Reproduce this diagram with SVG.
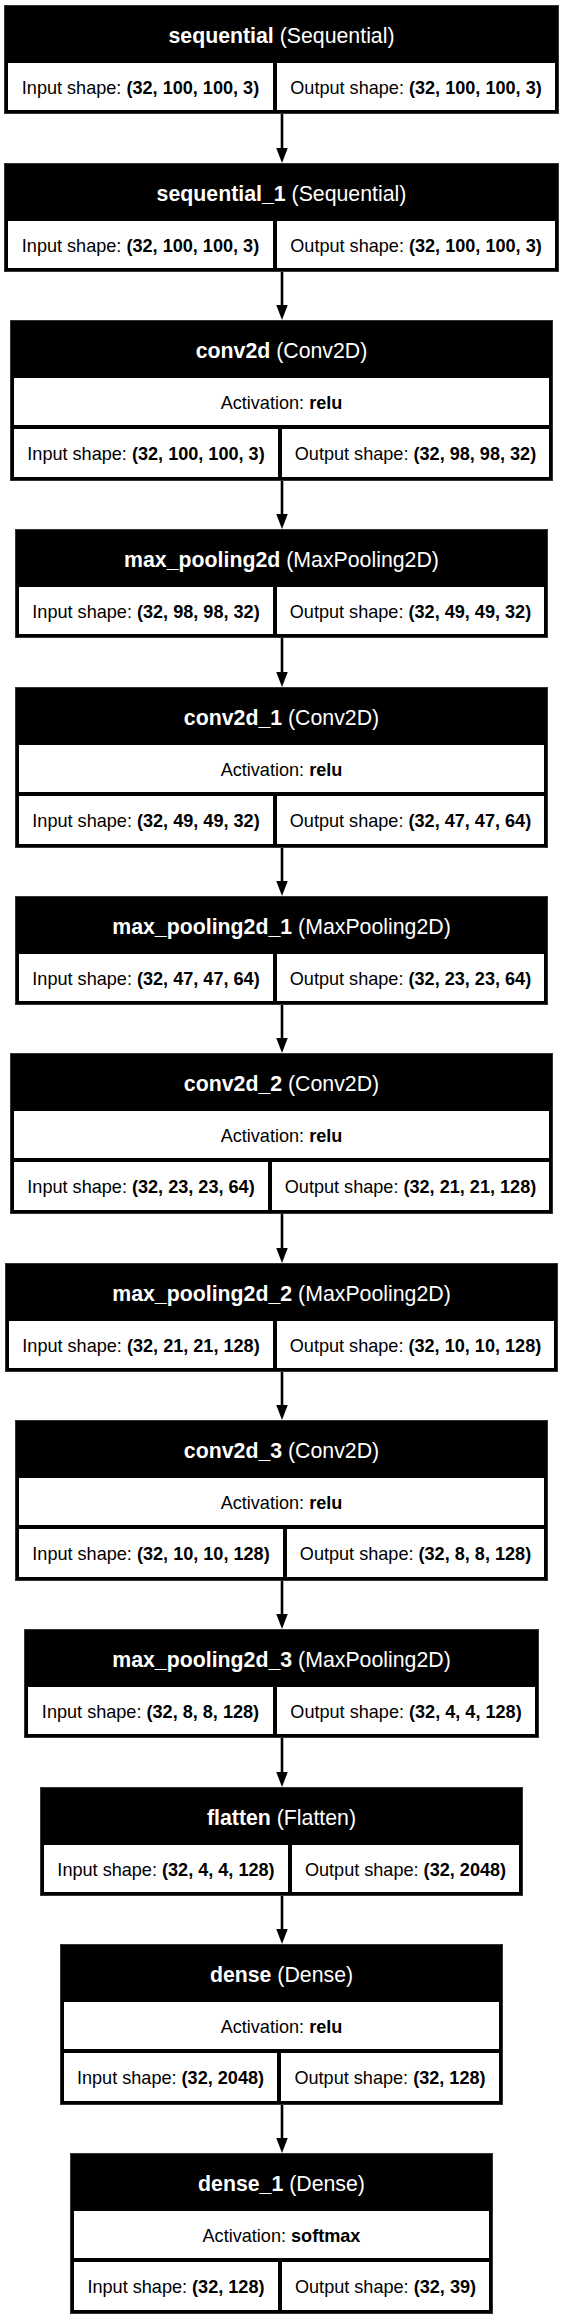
<svg xmlns="http://www.w3.org/2000/svg" width="564" height="2320" viewBox="0 0 564 2320">
<style>
.box{fill:#000;stroke:#333;stroke-width:1}
.cell{fill:#fff}
text{font-family:"Liberation Sans",Arial,Helvetica,sans-serif;text-anchor:middle}
.hd{fill:#fff;font-size:21.3px}
.tx{fill:#000;font-size:18.1px}
.b{font-weight:bold}
.edge{stroke:#000;stroke-width:2.6;fill:none}
</style>
<defs>
<marker id="ah" markerUnits="userSpaceOnUse" markerWidth="16" markerHeight="12" refX="0" refY="5.75" orient="auto">
<path d="M0,0 L15,5.75 L0,11.5 z" fill="#000"/>
</marker>
</defs>
<rect width="564" height="2320" fill="#fff"/>

<g id="connectors">
<path class="edge" marker-end="url(#ah)" d="M282,114 V148"/>
<path class="edge" marker-end="url(#ah)" d="M282,272 V305"/>
<path class="edge" marker-end="url(#ah)" d="M282,481 V514"/>
<path class="edge" marker-end="url(#ah)" d="M282,638 V672"/>
<path class="edge" marker-end="url(#ah)" d="M282,848 V881"/>
<path class="edge" marker-end="url(#ah)" d="M282,1005 V1038"/>
<path class="edge" marker-end="url(#ah)" d="M282,1214 V1248"/>
<path class="edge" marker-end="url(#ah)" d="M282,1372 V1405"/>
<path class="edge" marker-end="url(#ah)" d="M282,1581 V1614"/>
<path class="edge" marker-end="url(#ah)" d="M282,1738 V1772"/>
<path class="edge" marker-end="url(#ah)" d="M282,1896 V1929"/>
<path class="edge" marker-end="url(#ah)" d="M282,2105 V2138"/>
</g>

<g id="sequential">
<rect class="box" x="4.5" y="5.5" width="554" height="108"/>
<rect class="cell" x="8" y="63" width="265" height="47"/>
<rect class="cell" x="277" y="63" width="278" height="47"/>
<text class="hd" x="281.5" y="43"><tspan class="b">sequential</tspan> (Sequential)</text>
<text class="tx" x="140.5" y="93.5">Input shape: <tspan class="b">(32, 100, 100, 3)</tspan></text>
<text class="tx" x="416" y="93.5">Output shape: <tspan class="b">(32, 100, 100, 3)</tspan></text>
</g>

<g id="sequential_1">
<rect class="box" x="4.5" y="163.5" width="554" height="108"/>
<rect class="cell" x="8" y="221" width="265" height="47"/>
<rect class="cell" x="277" y="221" width="278" height="47"/>
<text class="hd" x="281.5" y="201"><tspan class="b">sequential_1</tspan> (Sequential)</text>
<text class="tx" x="140.5" y="251.5">Input shape: <tspan class="b">(32, 100, 100, 3)</tspan></text>
<text class="tx" x="416" y="251.5">Output shape: <tspan class="b">(32, 100, 100, 3)</tspan></text>
</g>

<g id="conv2d">
<rect class="box" x="10.5" y="320.5" width="542" height="160"/>
<rect class="cell" x="14" y="378" width="535" height="47"/>
<rect class="cell" x="14" y="429" width="264" height="48"/>
<rect class="cell" x="282" y="429" width="267" height="48"/>
<text class="hd" x="281.5" y="358"><tspan class="b">conv2d</tspan> (Conv2D)</text>
<text class="tx" x="281.5" y="408.5">Activation: <tspan class="b">relu</tspan></text>
<text class="tx" x="146" y="459.5">Input shape: <tspan class="b">(32, 100, 100, 3)</tspan></text>
<text class="tx" x="415.5" y="459.5">Output shape: <tspan class="b">(32, 98, 98, 32)</tspan></text>
</g>

<g id="max_pooling2d">
<rect class="box" x="15.5" y="529.5" width="532" height="108"/>
<rect class="cell" x="19" y="587" width="254" height="47"/>
<rect class="cell" x="277" y="587" width="267" height="47"/>
<text class="hd" x="281.5" y="567"><tspan class="b">max_pooling2d</tspan> (MaxPooling2D)</text>
<text class="tx" x="146" y="617.5">Input shape: <tspan class="b">(32, 98, 98, 32)</tspan></text>
<text class="tx" x="410.5" y="617.5">Output shape: <tspan class="b">(32, 49, 49, 32)</tspan></text>
</g>

<g id="conv2d_1">
<rect class="box" x="15.5" y="687.5" width="532" height="160"/>
<rect class="cell" x="19" y="745" width="525" height="47"/>
<rect class="cell" x="19" y="796" width="254" height="48"/>
<rect class="cell" x="277" y="796" width="267" height="48"/>
<text class="hd" x="281.5" y="725"><tspan class="b">conv2d_1</tspan> (Conv2D)</text>
<text class="tx" x="281.5" y="775.5">Activation: <tspan class="b">relu</tspan></text>
<text class="tx" x="146" y="826.5">Input shape: <tspan class="b">(32, 49, 49, 32)</tspan></text>
<text class="tx" x="410.5" y="826.5">Output shape: <tspan class="b">(32, 47, 47, 64)</tspan></text>
</g>

<g id="max_pooling2d_1">
<rect class="box" x="15.5" y="896.5" width="532" height="108"/>
<rect class="cell" x="19" y="954" width="254" height="47"/>
<rect class="cell" x="277" y="954" width="267" height="47"/>
<text class="hd" x="281.5" y="934"><tspan class="b">max_pooling2d_1</tspan> (MaxPooling2D)</text>
<text class="tx" x="146" y="984.5">Input shape: <tspan class="b">(32, 47, 47, 64)</tspan></text>
<text class="tx" x="410.5" y="984.5">Output shape: <tspan class="b">(32, 23, 23, 64)</tspan></text>
</g>

<g id="conv2d_2">
<rect class="box" x="10.5" y="1053.5" width="542" height="160"/>
<rect class="cell" x="14" y="1111" width="535" height="47"/>
<rect class="cell" x="14" y="1162" width="254" height="48"/>
<rect class="cell" x="272" y="1162" width="277" height="48"/>
<text class="hd" x="281.5" y="1091"><tspan class="b">conv2d_2</tspan> (Conv2D)</text>
<text class="tx" x="281.5" y="1141.5">Activation: <tspan class="b">relu</tspan></text>
<text class="tx" x="141" y="1192.5">Input shape: <tspan class="b">(32, 23, 23, 64)</tspan></text>
<text class="tx" x="410.5" y="1192.5">Output shape: <tspan class="b">(32, 21, 21, 128)</tspan></text>
</g>

<g id="max_pooling2d_2">
<rect class="box" x="5.5" y="1263.5" width="552" height="108"/>
<rect class="cell" x="9" y="1321" width="264" height="47"/>
<rect class="cell" x="277" y="1321" width="277" height="47"/>
<text class="hd" x="281.5" y="1301"><tspan class="b">max_pooling2d_2</tspan> (MaxPooling2D)</text>
<text class="tx" x="141" y="1351.5">Input shape: <tspan class="b">(32, 21, 21, 128)</tspan></text>
<text class="tx" x="415.5" y="1351.5">Output shape: <tspan class="b">(32, 10, 10, 128)</tspan></text>
</g>

<g id="conv2d_3">
<rect class="box" x="15.5" y="1420.5" width="532" height="160"/>
<rect class="cell" x="19" y="1478" width="525" height="47"/>
<rect class="cell" x="19" y="1529" width="264" height="48"/>
<rect class="cell" x="287" y="1529" width="257" height="48"/>
<text class="hd" x="281.5" y="1458"><tspan class="b">conv2d_3</tspan> (Conv2D)</text>
<text class="tx" x="281.5" y="1508.5">Activation: <tspan class="b">relu</tspan></text>
<text class="tx" x="151" y="1559.5">Input shape: <tspan class="b">(32, 10, 10, 128)</tspan></text>
<text class="tx" x="415.5" y="1559.5">Output shape: <tspan class="b">(32, 8, 8, 128)</tspan></text>
</g>

<g id="max_pooling2d_3">
<rect class="box" x="24.5" y="1629.5" width="514" height="108"/>
<rect class="cell" x="28" y="1687" width="245" height="47"/>
<rect class="cell" x="277" y="1687" width="258" height="47"/>
<text class="hd" x="281.5" y="1667"><tspan class="b">max_pooling2d_3</tspan> (MaxPooling2D)</text>
<text class="tx" x="150.5" y="1717.5">Input shape: <tspan class="b">(32, 8, 8, 128)</tspan></text>
<text class="tx" x="406" y="1717.5">Output shape: <tspan class="b">(32, 4, 4, 128)</tspan></text>
</g>

<g id="flatten">
<rect class="box" x="40.5" y="1787.5" width="482" height="108"/>
<rect class="cell" x="44" y="1845" width="244" height="47"/>
<rect class="cell" x="292" y="1845" width="227" height="47"/>
<text class="hd" x="281.5" y="1825"><tspan class="b">flatten</tspan> (Flatten)</text>
<text class="tx" x="166" y="1875.5">Input shape: <tspan class="b">(32, 4, 4, 128)</tspan></text>
<text class="tx" x="405.5" y="1875.5">Output shape: <tspan class="b">(32, 2048)</tspan></text>
</g>

<g id="dense">
<rect class="box" x="60.5" y="1944.5" width="442" height="160"/>
<rect class="cell" x="64" y="2002" width="435" height="47"/>
<rect class="cell" x="64" y="2053" width="213" height="48"/>
<rect class="cell" x="281" y="2053" width="218" height="48"/>
<text class="hd" x="281.5" y="1982"><tspan class="b">dense</tspan> (Dense)</text>
<text class="tx" x="281.5" y="2032.5">Activation: <tspan class="b">relu</tspan></text>
<text class="tx" x="170.5" y="2083.5">Input shape: <tspan class="b">(32, 2048)</tspan></text>
<text class="tx" x="390" y="2083.5">Output shape: <tspan class="b">(32, 128)</tspan></text>
</g>

<g id="dense_1">
<rect class="box" x="70.5" y="2153.5" width="422" height="160"/>
<rect class="cell" x="74" y="2211" width="415" height="47"/>
<rect class="cell" x="74" y="2262" width="204" height="48"/>
<rect class="cell" x="282" y="2262" width="207" height="48"/>
<text class="hd" x="281.5" y="2191"><tspan class="b">dense_1</tspan> (Dense)</text>
<text class="tx" x="281.5" y="2241.5">Activation: <tspan class="b">softmax</tspan></text>
<text class="tx" x="176" y="2292.5">Input shape: <tspan class="b">(32, 128)</tspan></text>
<text class="tx" x="385.5" y="2292.5">Output shape: <tspan class="b">(32, 39)</tspan></text>
</g>
</svg>
